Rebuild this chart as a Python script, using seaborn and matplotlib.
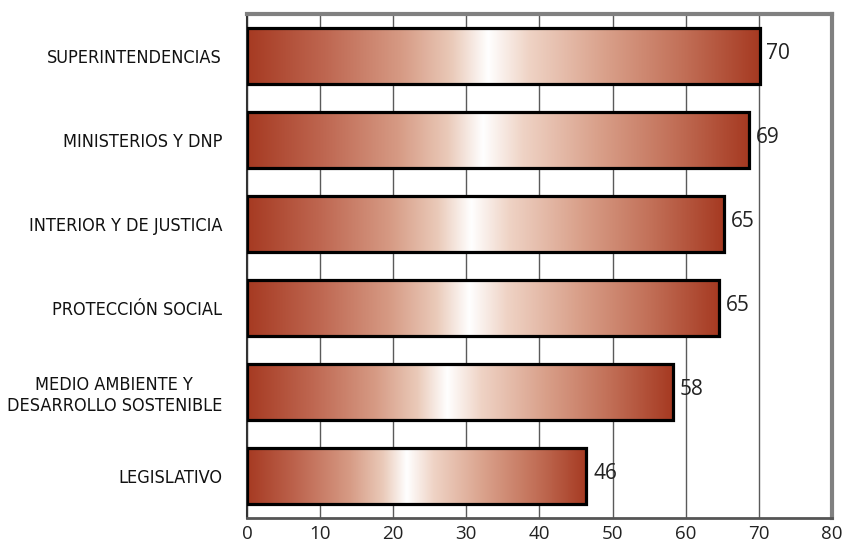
import numpy as np
import pandas as pd
import matplotlib
matplotlib.use("Agg")
import matplotlib.pyplot as plt
from matplotlib import font_manager
from matplotlib.colors import LinearSegmentedColormap
import seaborn as sns

# Data
categories = [
    "SUPERINTENDENCIAS",
    "MINISTERIOS Y DNP",
    "INTERIOR Y DE JUSTICIA",
    "PROTECCIÓN SOCIAL",
    "MEDIO AMBIENTE Y\nDESARROLLO SOSTENIBLE",
    "LEGISLATIVO",
]
values = [70.1, 68.6, 65.2, 64.6, 58.2, 46.4]
x_ticks = [0, 10, 20, 30, 40, 50, 60, 70, 80]

df = pd.DataFrame({"entidad": categories, "valor": values})

sns.set_style("white")
num_font = ["Open Sans", "DejaVu Sans"]

# the category labels use a narrow face; use a condensed one if present
cond = font_manager.FontProperties(family="DejaVu Sans", stretch="condensed")
cond_path = font_manager.findfont(cond)
if "Condensed" in cond_path:
    label_kw = dict(family="DejaVu Sans", fontstretch="condensed", fontsize=13)
else:
    label_kw = dict(family="Roboto", fontsize=12)

fig = plt.figure(figsize=(8.48, 5.43), dpi=100)
ax = fig.add_axes([0.2913, 0.046, 0.6897, 0.9282])

sns.barplot(data=df, x="valor", y="entidad", orient="h", width=0.67,
            facecolor="none", edgecolor="black", linewidth=2.3, ax=ax, zorder=3)

# gradient fill: dark red-brown at both ends, white near the middle
cmap = LinearSegmentedColormap.from_list("grad", [
    (0.0, "#A63A22"), (0.15, "#BE6650"), (0.3, "#D69A84"), (0.4, "#EACAB9"),
    (0.47, "#FFFFFF"), (0.55, "#EFD3C5"), (0.7, "#D9A08A"), (0.85, "#C27058"),
    (1.0, "#A63A22"),
])
grad = np.linspace(0, 1, 256).reshape(1, -1)
for patch in ax.patches:
    x0, y0 = patch.get_x(), patch.get_y()
    w, h = patch.get_width(), patch.get_height()
    im = ax.imshow(grad, cmap=cmap, aspect="auto", extent=[x0, x0 + w, y0 + h, y0],
                   zorder=2.5, interpolation="bilinear")
    im.set_clip_path(patch)

# value labels
for i, v in enumerate(values):
    ax.annotate(f"{v:.0f}", xy=(v, i), xytext=(5, 2), textcoords="offset points",
                ha="left", va="center", fontsize=15, family=num_font, color="#222222")

ax.set_xlim(0, 80)
ax.set_ylim(5.5, -0.5)
ax.set_xticks(x_ticks)
ax.set_xticklabels([str(t) for t in x_ticks], fontsize=13.5, family=num_font, color="#222222")
ax.set_yticks(range(len(categories)))
ax.set_yticklabels(categories, color="#111111", multialignment="center", **label_kw)
ax.set_yticks(np.arange(-0.5, len(categories), 1), minor=True)
ax.tick_params(axis="y", which="major", length=0, pad=18)
ax.tick_params(axis="y", which="minor", length=5, width=1, direction="out", color="#333333")
ax.tick_params(axis="x", which="major", length=5, width=1, direction="out",
               color="#333333", pad=0)
ax.set_xlabel("")
ax.set_ylabel("")

ax.xaxis.grid(True, color="#5a5a5a", linewidth=1)
ax.set_axisbelow(True)

for side in ["top", "right"]:
    ax.spines[side].set_color("#808080")
    ax.spines[side].set_linewidth(3)
ax.spines["bottom"].set_color("#555555")
ax.spines["bottom"].set_linewidth(2)
ax.spines["left"].set_color("#333333")
ax.spines["left"].set_linewidth(1.5)

plt.savefig("out.png", dpi=100)
